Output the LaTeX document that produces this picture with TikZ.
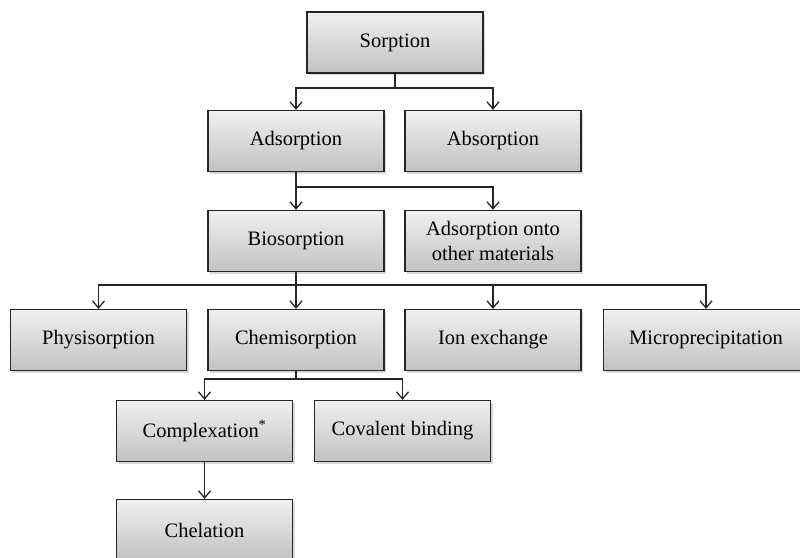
\documentclass[tikz,border=0pt]{standalone}
\usepackage{fontspec}
\setmainfont{Liberation Serif}
\usetikzlibrary{arrows.meta,shadows}
\begin{document}
\begin{tikzpicture}[x=1pt,y=-1pt,
  box/.style={draw=black!85, line width=1.3pt, top color=gray!12, bottom color=gray!48,
    minimum width=176pt, minimum height=61pt, inner sep=0pt, align=center,
    font=\fontsize{20.5}{25}\selectfont,
    drop shadow={shadow xshift=2pt, shadow yshift=-2pt, fill=gray!60, opacity=.5}},
  conn/.style={line width=1.3pt, draw=black!85},
  arr/.style={conn, -{Straight Barb[length=7pt,width=12pt,line width=1.3pt]}}]
\useasboundingbox (0,0) rectangle (800,557);
\fill[white] (0,0) rectangle (800,557);
\node[box] (sorption) at (395,42.5) {Sorption};
\node[box] (adsorption) at (296,141) {Adsorption};
\node[box] (absorption) at (493,141) {Absorption};
\node[box] (biosorption) at (296,241) {Biosorption};
\node[box] (other) at (493,241) {Adsorption onto\\other materials};
\node[box] (physi) at (98.5,340) {Physisorption};
\node[box] (chemi) at (296,340) {Chemisorption};
\node[box] (ion) at (493,340) {Ion exchange};
\node[box, minimum width=205pt] (micro) at (706,340) {Microprecipitation};
\node[box] (complex) at (204.5,431) {Complexation\textsuperscript{*}};
\node[box] (covalent) at (402.5,431) {Covalent binding};
\node[box] (chelation) at (204.5,530) {Chelation};
% connectors
\draw[conn] (sorption.south) -- (sorption.south |- 0,88) coordinate (j1);
\draw[arr] (j1) -| (adsorption.north);
\draw[arr] (j1) -| (absorption.north);
\draw[conn] (adsorption.south) -- (adsorption.south |- 0,187) coordinate (j2);
\draw[arr] (j2) -- (biosorption.north);
\draw[arr] (j2) -| (other.north);
\draw[conn] (biosorption.south) -- (biosorption.south |- 0,285) coordinate (j3);
\draw[arr] (j3) -| (physi.north);
\draw[arr] (j3) -- (chemi.north);
\draw[arr] (j3) -| (ion.north);
\draw[arr] (j3) -| (micro.north);
\draw[conn] (chemi.south) -- (chemi.south |- 0,379) coordinate (j4);
\draw[arr] (j4) -| (complex.north);
\draw[arr] (j4) -| (covalent.north);
\draw[arr] (complex.south) -- (chelation.north);
\end{tikzpicture}
\end{document}
